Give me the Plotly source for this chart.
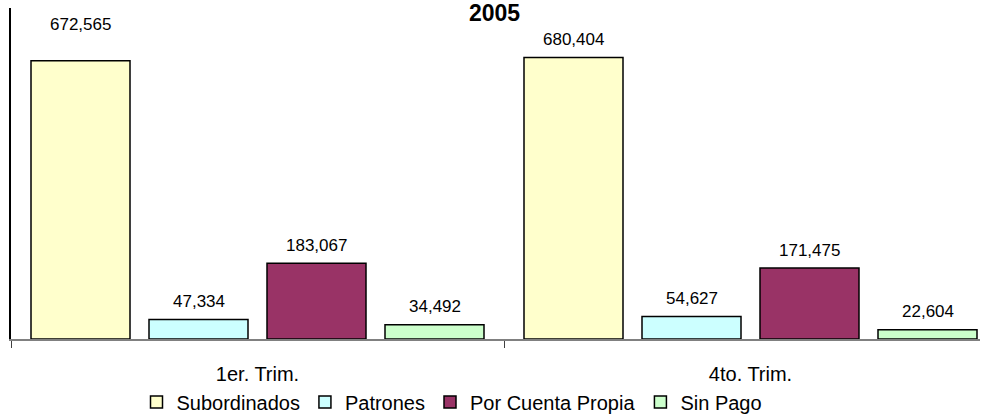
import plotly.graph_objects as go

categories = ["1er. Trim.", "4to. Trim."]
series_names = ["Subordinados", "Patrones", "Por Cuenta Propia", "Sin Pago"]
subordinados = [672565, 680404]
patrones = [47334, 54627]
cuenta_propia = [183067, 171475]
sin_pago = [34492, 22604]
title_text = "2005"

values = [subordinados, patrones, cuenta_propia, sin_pago]
colors = ["#FFFFCC", "#CCFFFF", "#993366", "#CCFFCC"]

BARGAP = 0.0426
BARGROUPGAP = 0.161
FONT = "Arial, Liberation Sans, sans-serif"

fig = go.Figure()
for name, vals, col in zip(series_names, values, colors):
    fig.add_trace(go.Bar(
        x=categories, y=vals, name=name,
        marker=dict(color=col, line=dict(color="#000000", width=1.5)),
        hoverinfo="skip",
    ))

# data labels above bars
n = len(series_names)
slot = (1 - BARGAP) / n
label_shift = {(0, 0): 36}
for si, vals in enumerate(values):
    for ci, v in enumerate(vals):
        xpos = ci + (si - (n - 1) / 2) * slot
        fig.add_annotation(
            x=xpos, y=v, xref="x", yref="y",
            text=f"{v:,}", showarrow=False,
            yanchor="middle", yshift=label_shift.get((si, ci), 18),
            font=dict(family=FONT, size=17, color="#000000"),
        )

fig.update_layout(
    width=987, height=418,
    margin=dict(l=11, r=7, t=8, b=79, autoexpand=False),
    paper_bgcolor="white", plot_bgcolor="white",
    barmode="group", bargap=BARGAP, bargroupgap=BARGROUPGAP,
    font=dict(family=FONT, size=20, color="#000000"),
    title=dict(text=f"<b>{title_text}</b>", x=0.501, xref="container",
               y=1 - 12.5 / 418, yref="container", yanchor="middle", xanchor="center",
               font=dict(family=FONT, size=23, color="#000000")),
    showlegend=True,
    legend=dict(orientation="h", xref="container", yref="container",
                x=452 / 987, y=1 - 402 / 418, xanchor="center", yanchor="middle",
                font=dict(family=FONT, size=20, color="#000000"),
                itemwidth=30, bgcolor="rgba(0,0,0,0)"),
    xaxis=dict(type="category", range=[-0.5, -0.5 + 969 / 493],
               showline=True, linecolor="#808080", linewidth=1.5,
               ticks="outside", tickson="boundaries", ticklen=7, tickcolor="#404040",
               tickwidth=1, showgrid=False, zeroline=False, ticklabelstandoff=16,
               tickfont=dict(family=FONT, size=20, color="#000000")),
    yaxis=dict(range=[0, 800000], showline=True, linecolor="#000000", linewidth=1.5,
               showticklabels=False, ticks="", showgrid=False, zeroline=False),
)

fig.write_html("out.html", post_script="document.body.style.margin='0';",
               config={"displayModeBar": False})
